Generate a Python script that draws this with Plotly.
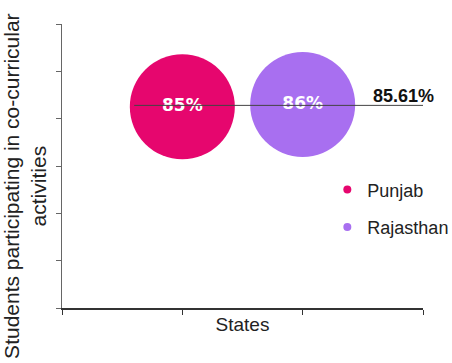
import plotly.graph_objects as go

states = ["Punjab", "Rajasthan"]
state_pos = [1, 2]
participation = [85, 86]
labels = ["85%", "86%"]
national_avg = 85.61
national_label = "85.61%"
y_ticks = [0, 20, 40, 60, 80, 100, 120]
x_ticks = [0, 1, 2, 3]
y_title = "Students participating in co-curricular<br>activities"
x_title = "States"

colors = ["#E6066E", "#A86FF0"]

fig = go.Figure()

# bubbles
for i in range(len(states)):
    fig.add_trace(go.Scatter(
        x=[state_pos[i]], y=[participation[i]],
        mode="markers+text",
        marker=dict(size=105, color=colors[i], line=dict(width=0), opacity=1),
        text=[labels[i]], textposition="middle center",
        textfont=dict(family="DejaVu Sans", size=17, color="white", weight="bold"),
        showlegend=False, hoverinfo="skip",
    ))

# average line
fig.add_trace(go.Scatter(
    x=[0.6, 3.0], y=[national_avg, national_avg],
    mode="lines", line=dict(color="#444444", width=1),
    showlegend=False, hoverinfo="skip",
))

# legend entries
for i in range(len(states)):
    fig.add_trace(go.Scatter(
        x=[None], y=[None], mode="markers",
        marker=dict(size=8, color=colors[i]),
        name=states[i], legendgroup=states[i], showlegend=True,
    ))

fig.add_annotation(
    x=2.834, y=national_avg, text=national_label, showarrow=False,
    yshift=9, font=dict(family="Liberation Sans", size=18, color="#111111", weight="bold"),
    xanchor="center", yanchor="middle",
)

# y axis title
fig.add_annotation(
    xref="paper", yref="paper", x=-0.1025, y=0.43,
    text=y_title, textangle=-90, showarrow=False,
    xanchor="center", yanchor="middle",
    font=dict(family="Liberation Sans", size=21, color="#222222"),
)

fig.update_layout(
    width=452, height=363,
    margin=dict(l=62, r=29, t=24, b=55, autoexpand=False),
    paper_bgcolor="white", plot_bgcolor="white",
    font=dict(family="Liberation Sans", color="#222222"),
    legend=dict(
        x=0.735, y=0.481, xanchor="left", yanchor="top",
        font=dict(size=18, color="#222222"),
        traceorder="grouped", tracegroupgap=11,
        bgcolor="rgba(0,0,0,0)",
    ),
    xaxis=dict(
        range=[0, 3], tickvals=x_ticks, showticklabels=False,
        ticks="outside", ticklen=5, tickcolor="#333333", tickwidth=1,
        showline=True, linecolor="#333333", linewidth=2,
        showgrid=False, zeroline=False, fixedrange=True,
        title=dict(text=x_title, font=dict(size=19, color="#222222"), standoff=4),
    ),
    yaxis=dict(
        range=[0, 120], tickvals=y_ticks, showticklabels=False,
        ticks="outside", ticklen=5, tickcolor="#666666", tickwidth=1,
        showline=True, linecolor="#666666", linewidth=1,
        showgrid=False, zeroline=False, fixedrange=True,
    ),
)

fig.write_html("out.html")
